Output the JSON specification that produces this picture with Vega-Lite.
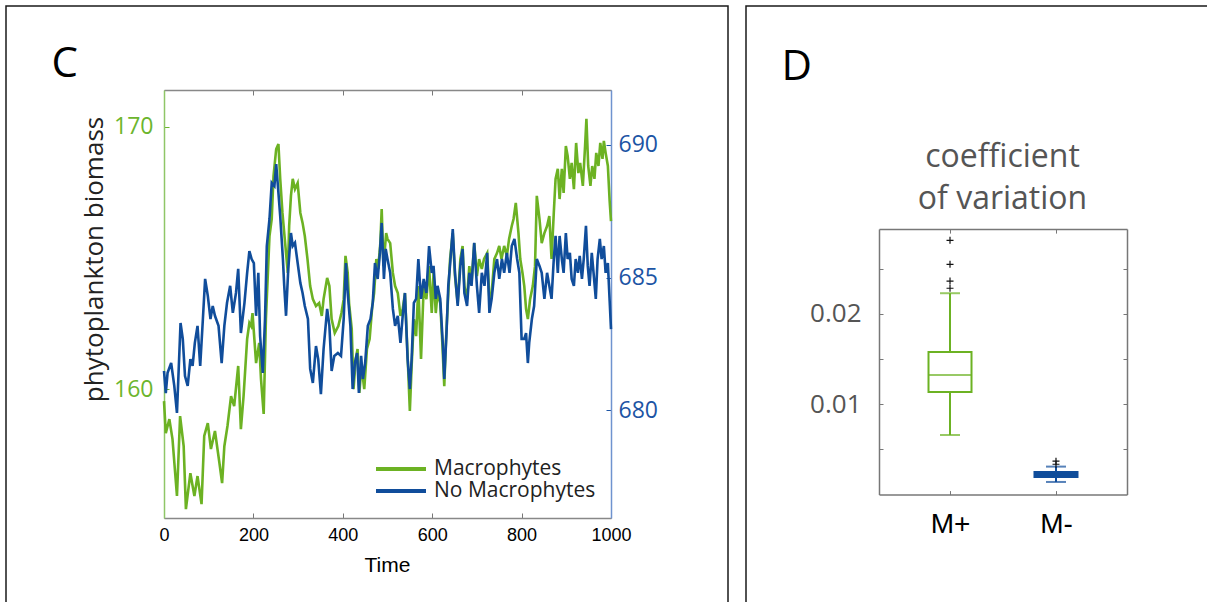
{
"$schema":"https://vega.github.io/schema/vega-lite/v6.json",
"background":"white",
"padding":{"left":5,"top":5,"right":0,"bottom":0},
"spacing":16,
"resolve":{"scale":{"color":"independent"},"legend":{"color":"independent"}},
"config":{"view":{"stroke":"#1a1a1a","strokeWidth":1.5},"axis":{"grid":false,"tickWidth":1}},
"hconcat":[
{
"width":722,"height":605,
"data":{"values":[
{"t":0,"s":"Macrophytes","v":159.54},{"t":4,"s":"Macrophytes","v":158.32},{"t":12,"s":"Macrophytes","v":158.85},{"t":19,"s":"Macrophytes","v":158.09},{"t":29,"s":"Macrophytes","v":155.92},{"t":36,"s":"Macrophytes","v":158.97},{"t":44,"s":"Macrophytes","v":157.82},{"t":49,"s":"Macrophytes","v":155.42},{"t":59,"s":"Macrophytes","v":156.79},{"t":68,"s":"Macrophytes","v":155.92},{"t":75,"s":"Macrophytes","v":156.68},{"t":84,"s":"Macrophytes","v":155.61},{"t":90,"s":"Macrophytes","v":158.21},{"t":98,"s":"Macrophytes","v":158.70},{"t":105,"s":"Macrophytes","v":157.71},{"t":114,"s":"Macrophytes","v":158.40},{"t":124,"s":"Macrophytes","v":157.18},{"t":130,"s":"Macrophytes","v":156.41},{"t":135,"s":"Macrophytes","v":157.82},{"t":142,"s":"Macrophytes","v":158.59},{"t":150,"s":"Macrophytes","v":159.73},{"t":157,"s":"Macrophytes","v":159.35},{"t":166,"s":"Macrophytes","v":160.88},{"t":172,"s":"Macrophytes","v":158.47},{"t":178,"s":"Macrophytes","v":159.73},{"t":186,"s":"Macrophytes","v":161.91},{"t":191,"s":"Macrophytes","v":162.52},{"t":195,"s":"Macrophytes","v":162.40},{"t":198,"s":"Macrophytes","v":162.90},{"t":206,"s":"Macrophytes","v":160.99},{"t":213,"s":"Macrophytes","v":161.76},{"t":217,"s":"Macrophytes","v":160.38},{"t":223,"s":"Macrophytes","v":159.05},{"t":228,"s":"Macrophytes","v":162.67},{"t":236,"s":"Macrophytes","v":165.84},{"t":241,"s":"Macrophytes","v":166.49},{"t":245,"s":"Macrophytes","v":168.13},{"t":251,"s":"Macrophytes","v":169.16},{"t":256,"s":"Macrophytes","v":169.35},{"t":260,"s":"Macrophytes","v":168.02},{"t":265,"s":"Macrophytes","v":166.72},{"t":271,"s":"Macrophytes","v":165.57},{"t":277,"s":"Macrophytes","v":164.43},{"t":280,"s":"Macrophytes","v":166.22},{"t":284,"s":"Macrophytes","v":167.37},{"t":288,"s":"Macrophytes","v":168.02},{"t":293,"s":"Macrophytes","v":167.63},{"t":299,"s":"Macrophytes","v":167.86},{"t":305,"s":"Macrophytes","v":166.72},{"t":310,"s":"Macrophytes","v":166.34},{"t":315,"s":"Macrophytes","v":165.84},{"t":321,"s":"Macrophytes","v":164.96},{"t":327,"s":"Macrophytes","v":163.93},{"t":333,"s":"Macrophytes","v":163.43},{"t":340,"s":"Macrophytes","v":163.17},{"t":347,"s":"Macrophytes","v":163.28},{"t":353,"s":"Macrophytes","v":162.79},{"t":357,"s":"Macrophytes","v":163.43},{"t":365,"s":"Macrophytes","v":164.24},{"t":370,"s":"Macrophytes","v":163.93},{"t":375,"s":"Macrophytes","v":162.67},{"t":382,"s":"Macrophytes","v":162.14},{"t":390,"s":"Macrophytes","v":162.40},{"t":397,"s":"Macrophytes","v":162.90},{"t":402,"s":"Macrophytes","v":163.43},{"t":406,"s":"Macrophytes","v":165.08},{"t":411,"s":"Macrophytes","v":164.43},{"t":414,"s":"Macrophytes","v":163.28},{"t":420,"s":"Macrophytes","v":162.29},{"t":424,"s":"Macrophytes","v":160.00},{"t":429,"s":"Macrophytes","v":161.15},{"t":433,"s":"Macrophytes","v":161.53},{"t":437,"s":"Macrophytes","v":159.85},{"t":442,"s":"Macrophytes","v":160.88},{"t":448,"s":"Macrophytes","v":160.00},{"t":454,"s":"Macrophytes","v":161.53},{"t":460,"s":"Macrophytes","v":161.91},{"t":466,"s":"Macrophytes","v":163.17},{"t":470,"s":"Macrophytes","v":163.66},{"t":475,"s":"Macrophytes","v":164.96},{"t":479,"s":"Macrophytes","v":164.58},{"t":484,"s":"Macrophytes","v":165.57},{"t":487,"s":"Macrophytes","v":166.87},{"t":491,"s":"Macrophytes","v":164.69},{"t":497,"s":"Macrophytes","v":165.95},{"t":500,"s":"Macrophytes","v":165.73},{"t":506,"s":"Macrophytes","v":165.57},{"t":512,"s":"Macrophytes","v":164.43},{"t":517,"s":"Macrophytes","v":163.93},{"t":523,"s":"Macrophytes","v":163.66},{"t":529,"s":"Macrophytes","v":162.79},{"t":534,"s":"Macrophytes","v":163.05},{"t":539,"s":"Macrophytes","v":163.66},{"t":545,"s":"Macrophytes","v":161.26},{"t":550,"s":"Macrophytes","v":159.16},{"t":554,"s":"Macrophytes","v":160.88},{"t":559,"s":"Macrophytes","v":162.67},{"t":564,"s":"Macrophytes","v":162.02},{"t":569,"s":"Macrophytes","v":163.93},{"t":575,"s":"Macrophytes","v":161.15},{"t":581,"s":"Macrophytes","v":163.93},{"t":587,"s":"Macrophytes","v":163.43},{"t":593,"s":"Macrophytes","v":164.69},{"t":599,"s":"Macrophytes","v":162.90},{"t":603,"s":"Macrophytes","v":164.43},{"t":608,"s":"Macrophytes","v":162.90},{"t":612,"s":"Macrophytes","v":163.66},{"t":618,"s":"Macrophytes","v":163.28},{"t":623,"s":"Macrophytes","v":161.64},{"t":627,"s":"Macrophytes","v":160.11},{"t":631,"s":"Macrophytes","v":161.91},{"t":636,"s":"Macrophytes","v":163.66},{"t":640,"s":"Macrophytes","v":164.96},{"t":646,"s":"Macrophytes","v":165.95},{"t":651,"s":"Macrophytes","v":164.31},{"t":657,"s":"Macrophytes","v":163.28},{"t":663,"s":"Macrophytes","v":164.96},{"t":668,"s":"Macrophytes","v":165.46},{"t":672,"s":"Macrophytes","v":163.93},{"t":678,"s":"Macrophytes","v":163.43},{"t":683,"s":"Macrophytes","v":164.69},{"t":688,"s":"Macrophytes","v":164.05},{"t":694,"s":"Macrophytes","v":165.57},{"t":700,"s":"Macrophytes","v":164.31},{"t":705,"s":"Macrophytes","v":164.96},{"t":711,"s":"Macrophytes","v":164.58},{"t":716,"s":"Macrophytes","v":164.96},{"t":723,"s":"Macrophytes","v":165.19},{"t":728,"s":"Macrophytes","v":163.43},{"t":733,"s":"Macrophytes","v":163.66},{"t":739,"s":"Macrophytes","v":164.96},{"t":745,"s":"Macrophytes","v":165.19},{"t":750,"s":"Macrophytes","v":165.46},{"t":755,"s":"Macrophytes","v":164.96},{"t":761,"s":"Macrophytes","v":165.46},{"t":767,"s":"Macrophytes","v":165.08},{"t":772,"s":"Macrophytes","v":165.73},{"t":778,"s":"Macrophytes","v":166.22},{"t":782,"s":"Macrophytes","v":166.49},{"t":787,"s":"Macrophytes","v":167.10},{"t":793,"s":"Macrophytes","v":165.95},{"t":797,"s":"Macrophytes","v":164.96},{"t":802,"s":"Macrophytes","v":164.43},{"t":806,"s":"Macrophytes","v":163.93},{"t":810,"s":"Macrophytes","v":163.05},{"t":814,"s":"Macrophytes","v":162.67},{"t":819,"s":"Macrophytes","v":163.43},{"t":825,"s":"Macrophytes","v":163.93},{"t":830,"s":"Macrophytes","v":164.69},{"t":834,"s":"Macrophytes","v":167.37},{"t":840,"s":"Macrophytes","v":166.49},{"t":845,"s":"Macrophytes","v":165.57},{"t":851,"s":"Macrophytes","v":165.95},{"t":857,"s":"Macrophytes","v":166.22},{"t":862,"s":"Macrophytes","v":166.60},{"t":867,"s":"Macrophytes","v":164.96},{"t":872,"s":"Macrophytes","v":166.72},{"t":876,"s":"Macrophytes","v":168.02},{"t":881,"s":"Macrophytes","v":168.40},{"t":885,"s":"Macrophytes","v":167.25},{"t":890,"s":"Macrophytes","v":168.40},{"t":894,"s":"Macrophytes","v":167.48},{"t":899,"s":"Macrophytes","v":169.27},{"t":903,"s":"Macrophytes","v":168.89},{"t":908,"s":"Macrophytes","v":168.02},{"t":912,"s":"Macrophytes","v":168.63},{"t":917,"s":"Macrophytes","v":167.63},{"t":922,"s":"Macrophytes","v":169.39},{"t":927,"s":"Macrophytes","v":168.24},{"t":931,"s":"Macrophytes","v":168.63},{"t":937,"s":"Macrophytes","v":167.75},{"t":942,"s":"Macrophytes","v":169.27},{"t":945,"s":"Macrophytes","v":170.31},{"t":949,"s":"Macrophytes","v":168.51},{"t":954,"s":"Macrophytes","v":167.75},{"t":958,"s":"Macrophytes","v":168.51},{"t":963,"s":"Macrophytes","v":168.02},{"t":967,"s":"Macrophytes","v":169.01},{"t":972,"s":"Macrophytes","v":168.51},{"t":976,"s":"Macrophytes","v":169.39},{"t":981,"s":"Macrophytes","v":168.78},{"t":984,"s":"Macrophytes","v":169.47},{"t":988,"s":"Macrophytes","v":169.01},{"t":993,"s":"Macrophytes","v":168.51},{"t":997,"s":"Macrophytes","v":167.17},{"t":1000,"s":"Macrophytes","v":166.41},
{"t":0,"s":"No Macrophytes","v":681.48},{"t":4,"s":"No Macrophytes","v":680.65},{"t":8,"s":"No Macrophytes","v":681.41},{"t":16,"s":"No Macrophytes","v":681.78},{"t":23,"s":"No Macrophytes","v":680.92},{"t":29,"s":"No Macrophytes","v":679.90},{"t":37,"s":"No Macrophytes","v":683.29},{"t":42,"s":"No Macrophytes","v":682.69},{"t":47,"s":"No Macrophytes","v":681.29},{"t":53,"s":"No Macrophytes","v":680.92},{"t":59,"s":"No Macrophytes","v":681.93},{"t":64,"s":"No Macrophytes","v":681.67},{"t":69,"s":"No Macrophytes","v":682.54},{"t":75,"s":"No Macrophytes","v":683.18},{"t":81,"s":"No Macrophytes","v":681.67},{"t":87,"s":"No Macrophytes","v":683.44},{"t":92,"s":"No Macrophytes","v":684.95},{"t":98,"s":"No Macrophytes","v":684.31},{"t":104,"s":"No Macrophytes","v":683.44},{"t":109,"s":"No Macrophytes","v":683.93},{"t":114,"s":"No Macrophytes","v":683.56},{"t":122,"s":"No Macrophytes","v":683.18},{"t":129,"s":"No Macrophytes","v":681.78},{"t":135,"s":"No Macrophytes","v":683.18},{"t":141,"s":"No Macrophytes","v":684.05},{"t":148,"s":"No Macrophytes","v":684.69},{"t":154,"s":"No Macrophytes","v":683.67},{"t":161,"s":"No Macrophytes","v":684.42},{"t":166,"s":"No Macrophytes","v":685.33},{"t":172,"s":"No Macrophytes","v":682.91},{"t":180,"s":"No Macrophytes","v":684.05},{"t":186,"s":"No Macrophytes","v":685.18},{"t":191,"s":"No Macrophytes","v":686.00},{"t":196,"s":"No Macrophytes","v":685.70},{"t":201,"s":"No Macrophytes","v":685.55},{"t":206,"s":"No Macrophytes","v":683.56},{"t":211,"s":"No Macrophytes","v":685.18},{"t":215,"s":"No Macrophytes","v":682.80},{"t":221,"s":"No Macrophytes","v":681.41},{"t":226,"s":"No Macrophytes","v":683.44},{"t":230,"s":"No Macrophytes","v":686.19},{"t":236,"s":"No Macrophytes","v":687.21},{"t":241,"s":"No Macrophytes","v":688.57},{"t":247,"s":"No Macrophytes","v":688.45},{"t":251,"s":"No Macrophytes","v":689.28},{"t":256,"s":"No Macrophytes","v":688.19},{"t":260,"s":"No Macrophytes","v":687.32},{"t":266,"s":"No Macrophytes","v":685.70},{"t":269,"s":"No Macrophytes","v":684.69},{"t":273,"s":"No Macrophytes","v":683.56},{"t":278,"s":"No Macrophytes","v":685.33},{"t":284,"s":"No Macrophytes","v":686.68},{"t":288,"s":"No Macrophytes","v":686.19},{"t":293,"s":"No Macrophytes","v":686.31},{"t":299,"s":"No Macrophytes","v":685.55},{"t":305,"s":"No Macrophytes","v":684.80},{"t":310,"s":"No Macrophytes","v":684.42},{"t":315,"s":"No Macrophytes","v":683.93},{"t":322,"s":"No Macrophytes","v":683.44},{"t":327,"s":"No Macrophytes","v":681.56},{"t":333,"s":"No Macrophytes","v":681.03},{"t":340,"s":"No Macrophytes","v":682.42},{"t":345,"s":"No Macrophytes","v":681.93},{"t":351,"s":"No Macrophytes","v":680.61},{"t":357,"s":"No Macrophytes","v":682.31},{"t":365,"s":"No Macrophytes","v":683.82},{"t":370,"s":"No Macrophytes","v":683.18},{"t":375,"s":"No Macrophytes","v":681.48},{"t":381,"s":"No Macrophytes","v":682.05},{"t":389,"s":"No Macrophytes","v":682.16},{"t":396,"s":"No Macrophytes","v":682.05},{"t":402,"s":"No Macrophytes","v":683.44},{"t":407,"s":"No Macrophytes","v":685.55},{"t":411,"s":"No Macrophytes","v":684.42},{"t":417,"s":"No Macrophytes","v":683.18},{"t":422,"s":"No Macrophytes","v":680.80},{"t":427,"s":"No Macrophytes","v":681.78},{"t":432,"s":"No Macrophytes","v":682.16},{"t":436,"s":"No Macrophytes","v":680.65},{"t":441,"s":"No Macrophytes","v":682.05},{"t":445,"s":"No Macrophytes","v":681.18},{"t":450,"s":"No Macrophytes","v":681.78},{"t":456,"s":"No Macrophytes","v":683.18},{"t":462,"s":"No Macrophytes","v":683.44},{"t":467,"s":"No Macrophytes","v":684.05},{"t":472,"s":"No Macrophytes","v":685.55},{"t":478,"s":"No Macrophytes","v":684.95},{"t":483,"s":"No Macrophytes","v":685.93},{"t":487,"s":"No Macrophytes","v":687.06},{"t":492,"s":"No Macrophytes","v":684.95},{"t":496,"s":"No Macrophytes","v":686.08},{"t":500,"s":"No Macrophytes","v":685.70},{"t":506,"s":"No Macrophytes","v":685.18},{"t":512,"s":"No Macrophytes","v":683.82},{"t":517,"s":"No Macrophytes","v":683.18},{"t":523,"s":"No Macrophytes","v":683.56},{"t":529,"s":"No Macrophytes","v":682.54},{"t":534,"s":"No Macrophytes","v":683.56},{"t":539,"s":"No Macrophytes","v":684.42},{"t":545,"s":"No Macrophytes","v":681.93},{"t":550,"s":"No Macrophytes","v":680.80},{"t":554,"s":"No Macrophytes","v":681.93},{"t":559,"s":"No Macrophytes","v":684.05},{"t":564,"s":"No Macrophytes","v":684.20},{"t":569,"s":"No Macrophytes","v":685.70},{"t":575,"s":"No Macrophytes","v":684.20},{"t":581,"s":"No Macrophytes","v":684.95},{"t":587,"s":"No Macrophytes","v":684.42},{"t":593,"s":"No Macrophytes","v":686.19},{"t":599,"s":"No Macrophytes","v":685.18},{"t":603,"s":"No Macrophytes","v":685.44},{"t":608,"s":"No Macrophytes","v":684.20},{"t":612,"s":"No Macrophytes","v":684.69},{"t":618,"s":"No Macrophytes","v":684.20},{"t":624,"s":"No Macrophytes","v":682.42},{"t":627,"s":"No Macrophytes","v":681.18},{"t":632,"s":"No Macrophytes","v":682.91},{"t":636,"s":"No Macrophytes","v":684.69},{"t":641,"s":"No Macrophytes","v":685.70},{"t":646,"s":"No Macrophytes","v":686.83},{"t":651,"s":"No Macrophytes","v":685.18},{"t":657,"s":"No Macrophytes","v":683.93},{"t":663,"s":"No Macrophytes","v":685.44},{"t":668,"s":"No Macrophytes","v":686.08},{"t":672,"s":"No Macrophytes","v":684.42},{"t":678,"s":"No Macrophytes","v":683.93},{"t":683,"s":"No Macrophytes","v":685.18},{"t":688,"s":"No Macrophytes","v":684.69},{"t":694,"s":"No Macrophytes","v":686.31},{"t":700,"s":"No Macrophytes","v":684.69},{"t":705,"s":"No Macrophytes","v":683.67},{"t":711,"s":"No Macrophytes","v":685.18},{"t":717,"s":"No Macrophytes","v":684.69},{"t":723,"s":"No Macrophytes","v":685.93},{"t":728,"s":"No Macrophytes","v":683.67},{"t":733,"s":"No Macrophytes","v":684.20},{"t":739,"s":"No Macrophytes","v":685.18},{"t":745,"s":"No Macrophytes","v":685.70},{"t":750,"s":"No Macrophytes","v":684.95},{"t":756,"s":"No Macrophytes","v":685.70},{"t":761,"s":"No Macrophytes","v":685.18},{"t":767,"s":"No Macrophytes","v":685.93},{"t":773,"s":"No Macrophytes","v":685.18},{"t":778,"s":"No Macrophytes","v":686.19},{"t":784,"s":"No Macrophytes","v":686.46},{"t":790,"s":"No Macrophytes","v":685.70},{"t":795,"s":"No Macrophytes","v":685.18},{"t":800,"s":"No Macrophytes","v":682.69},{"t":806,"s":"No Macrophytes","v":682.69},{"t":810,"s":"No Macrophytes","v":682.91},{"t":814,"s":"No Macrophytes","v":681.78},{"t":817,"s":"No Macrophytes","v":682.54},{"t":823,"s":"No Macrophytes","v":683.44},{"t":828,"s":"No Macrophytes","v":683.93},{"t":834,"s":"No Macrophytes","v":685.70},{"t":840,"s":"No Macrophytes","v":685.44},{"t":845,"s":"No Macrophytes","v":685.18},{"t":851,"s":"No Macrophytes","v":684.20},{"t":857,"s":"No Macrophytes","v":685.18},{"t":862,"s":"No Macrophytes","v":684.69},{"t":867,"s":"No Macrophytes","v":684.20},{"t":872,"s":"No Macrophytes","v":685.70},{"t":876,"s":"No Macrophytes","v":686.57},{"t":881,"s":"No Macrophytes","v":685.18},{"t":885,"s":"No Macrophytes","v":686.57},{"t":890,"s":"No Macrophytes","v":685.70},{"t":894,"s":"No Macrophytes","v":685.18},{"t":899,"s":"No Macrophytes","v":686.68},{"t":903,"s":"No Macrophytes","v":685.70},{"t":908,"s":"No Macrophytes","v":685.93},{"t":912,"s":"No Macrophytes","v":684.95},{"t":917,"s":"No Macrophytes","v":684.69},{"t":921,"s":"No Macrophytes","v":685.70},{"t":926,"s":"No Macrophytes","v":685.18},{"t":930,"s":"No Macrophytes","v":685.82},{"t":935,"s":"No Macrophytes","v":684.95},{"t":939,"s":"No Macrophytes","v":685.70},{"t":944,"s":"No Macrophytes","v":686.95},{"t":948,"s":"No Macrophytes","v":685.44},{"t":952,"s":"No Macrophytes","v":684.69},{"t":957,"s":"No Macrophytes","v":685.93},{"t":961,"s":"No Macrophytes","v":685.18},{"t":966,"s":"No Macrophytes","v":684.20},{"t":970,"s":"No Macrophytes","v":685.70},{"t":975,"s":"No Macrophytes","v":686.46},{"t":979,"s":"No Macrophytes","v":685.70},{"t":984,"s":"No Macrophytes","v":686.19},{"t":988,"s":"No Macrophytes","v":685.18},{"t":993,"s":"No Macrophytes","v":685.55},{"t":997,"s":"No Macrophytes","v":684.12},{"t":1000,"s":"No Macrophytes","v":683.06}
]},
"encoding":{"color":{"field":"s","type":"nominal","scale":{"domain":["Macrophytes","No Macrophytes"],"range":["#6cb223","#104d9b"]},"legend":{"orient":"none","legendX":383,"legendY":451,"title":null,"symbolType":"M-2.5,0L2.5,0","symbolSize":400,"symbolStrokeWidth":4,"labelFont":"Open Sans","labelFontSize":21,"labelColor":"#222","labelOffset":21,"labelLimit":0,"rowPadding":-4,"padding":0}}},
"layer":[
{"transform":[{"filter":"datum.s === 'Macrophytes'"}],
 "mark":{"type":"line","strokeWidth":2.6},
 "encoding":{
  "x":{"field":"t","type":"quantitative","scale":{"domain":[0,1000],"range":[158,605],"nice":false,"zero":false},
   "axis":{"orient":"bottom","offset":-93,"values":[0,200,400,600,800,1000],"format":"d","labelFont":"Liberation Sans","labelFontSize":18,"labelColor":"#000","tickSize":-5,"tickColor":"#777","domainColor":"#888","domainWidth":1.5,"labelPadding":13,"labelFlush":false,"labelOverlap":false,"labelBound":false,"title":"Time","titleFont":"Liberation Sans","titleFontSize":21,"titleFontWeight":"normal","titleColor":"#000","titleX":381,"titleY":53,"titleAlign":"center","titleBaseline":"alphabetic"}},
  "y":{"field":"v","type":"quantitative","scale":{"domain":[155.08,171.41],"range":[512,84],"nice":false,"zero":false},
   "axis":{"orient":"left","offset":-158,"values":[160,170],"labelFont":"Open Sans","labelFontSize":23,"labelColor":"#6cb52d","tickColor":"#6cb52d","tickSize":-5,"domainColor":"#8fc667","domainWidth":1.5,"labelPadding":16,"title":"phytoplankton biomass","titleFont":"Open Sans","titleFontSize":26,"titleFontWeight":"normal","titleColor":"#222","titleAngle":270,"titleX":-62,"titleY":253,"titleAlign":"center","titleBaseline":"alphabetic"}}
 }},
{"transform":[{"filter":"datum.s === 'No Macrophytes'"}],
 "mark":{"type":"line","strokeWidth":2.6},
 "encoding":{
  "x":{"field":"t","type":"quantitative","scale":{"domain":[0,1000],"range":[158,605],"nice":false,"zero":false},
   "axis":{"orient":"top","offset":-84,"values":[0,200,400,600,800,1000],"labels":false,"tickSize":-5,"tickColor":"#777","domainColor":"#888","domainWidth":1.5,"title":"C","titleFont":"Open Sans","titleFontSize":42,"titleFontWeight":"normal","titleColor":"#000","titleAngle":0,"titleX":45,"titleY":-14,"titleAlign":"left","titleBaseline":"alphabetic"}},
  "y":{"field":"v","type":"quantitative","scale":{"domain":[675.94,692.07],"range":[512,84],"nice":false,"zero":false},
   "axis":{"orient":"right","offset":-117,"values":[680,685,690],"labelFont":"Open Sans","labelFontSize":23,"labelColor":"#1c54a4","tickColor":"#1c54a4","tickSize":-5,"domainColor":"#6f93cf","domainWidth":1.5,"labelPadding":12,"title":null}}
 }}
],
"resolve":{"scale":{"y":"independent"},"axis":{"x":"independent","y":"independent"}}
},
{
"width":470,"height":605,
"data":{"values":[
{"group":"M+","lower":0.0066,"q1":0.01136,"median":0.01324,"q3":0.01579,"upper":0.0223},
{"group":"M-","lower":0.0014,"q1":0.00195,"median":0.0022,"q3":0.0025,"upper":0.0031}
]},
"layer":[
{"mark":{"type":"rule","strokeWidth":2},
 "encoding":{
  "x":{"field":"group","type":"nominal","scale":{"type":"point","domain":["M+","M-"],"range":[133,381],"padding":0.67},
   "axis":{"orient":"bottom","offset":-116.4,"labelFont":"Liberation Sans","labelFontSize":28,"labelColor":"#000","labelAngle":0,"labelPadding":20,"labelBaseline":"top","tickSize":-4,"tickColor":"#777","domainColor":"#777","domainWidth":1.5,"title":null}},
  "y":{"field":"lower","type":"quantitative","scale":{"domain":[0,0.0294],"range":[488.6,223.1],"nice":false,"zero":false},
   "axis":{"orient":"left","offset":-133,"values":[0.005,0.01,0.015,0.02,0.025],"format":".2f","labelExpr":"(datum.value > 0.0099 && datum.value < 0.0101) || (datum.value > 0.0199 && datum.value < 0.0201) ? datum.label : ''","labelFont":"Open Sans","labelFontSize":26,"labelColor":"#555","labelPadding":22,"tickSize":-4,"tickColor":"#777","domainColor":"#777","domainWidth":1.5,"title":null}},
  "y2":{"field":"upper"},
  "color":{"field":"group","type":"nominal","scale":{"domain":["M+","M-"],"range":["#6cb223","#104d9b"]},"legend":null}
 }},
{"mark":{"type":"bar","width":43,"strokeWidth":2},
 "encoding":{
  "x":{"field":"group","type":"nominal","scale":{"type":"point","domain":["M+","M-"],"range":[133,381],"padding":0.67},
   "axis":{"orient":"top","offset":-223.1,"labels":false,"tickSize":-4,"tickColor":"#777","domainColor":"#777","domainWidth":1.5,"title":["coefficient","of variation"],"titleFont":"Open Sans","titleFontSize":32,"titleFontWeight":"normal","titleColor":"#555","titleX":256,"titleY":-63,"titleAlign":"center","titleBaseline":"alphabetic","titleLineHeight":42}},
  "y":{"field":"q3","type":"quantitative","scale":{"domain":[0,0.0294],"range":[488.6,223.1],"nice":false,"zero":false},
   "axis":{"orient":"right","offset":-89,"values":[0.005,0.01,0.015,0.02,0.025],"labels":false,"tickSize":-4,"tickColor":"#777","domainColor":"#777","domainWidth":1.5,"title":"D","titleFont":"Open Sans","titleFontSize":42,"titleFontWeight":"normal","titleColor":"#000","titleAngle":0,"titleX":-346,"titleY":73,"titleAlign":"left","titleBaseline":"alphabetic"}},
  "y2":{"field":"q1"},
  "stroke":{"field":"group","type":"nominal","scale":{"domain":["M+","M-"],"range":["#6cb223","#104d9b"]},"legend":null},
  "fill":{"field":"group","type":"nominal","scale":{"domain":["M+","M-"],"range":["#ffffff","#104d9b"]},"legend":null}
 }},
{"mark":{"type":"tick","size":43,"thickness":2},
 "encoding":{
  "x":{"field":"group","type":"nominal","scale":{"type":"point","domain":["M+","M-"],"range":[133,381],"padding":0.67},"axis":null},
  "y":{"field":"median","type":"quantitative","scale":{"domain":[0,0.0294],"range":[488.6,223.1],"nice":false,"zero":false},"axis":null},
  "color":{"field":"group","type":"nominal","scale":{"domain":["M+","M-"],"range":["#6cb223","#104d9b"]},"legend":null}
 }},
{"mark":{"type":"tick","size":20,"thickness":2},
 "encoding":{
  "x":{"field":"group","type":"nominal","scale":{"type":"point","domain":["M+","M-"],"range":[133,381],"padding":0.67},"axis":null},
  "y":{"field":"lower","type":"quantitative","scale":{"domain":[0,0.0294],"range":[488.6,223.1],"nice":false,"zero":false},"axis":null},
  "color":{"field":"group","type":"nominal","scale":{"domain":["M+","M-"],"range":["#6cb223","#104d9b"]},"legend":null}
 }},
{"mark":{"type":"tick","size":20,"thickness":2},
 "encoding":{
  "x":{"field":"group","type":"nominal","scale":{"type":"point","domain":["M+","M-"],"range":[133,381],"padding":0.67},"axis":null},
  "y":{"field":"upper","type":"quantitative","scale":{"domain":[0,0.0294],"range":[488.6,223.1],"nice":false,"zero":false},"axis":null},
  "color":{"field":"group","type":"nominal","scale":{"domain":["M+","M-"],"range":["#6cb223","#104d9b"]},"legend":null}
 }},
{"data":{"values":[
 {"group":"M+","value":0.02285},{"group":"M+","value":0.02365},{"group":"M+","value":0.0255},{"group":"M+","value":0.02816},
 {"group":"M-","value":0.00336},{"group":"M-","value":0.0037}
 ]},
 "mark":{"type":"point","shape":"M-1,0L1,0M0,-1L0,1","size":49,"strokeWidth":1.2,"color":"#111","filled":false,"opacity":1},
 "encoding":{
  "x":{"field":"group","type":"nominal","scale":{"type":"point","domain":["M+","M-"],"range":[133,381],"padding":0.67},"axis":null},
  "y":{"field":"value","type":"quantitative","scale":{"domain":[0,0.0294],"range":[488.6,223.1],"nice":false,"zero":false},"axis":null}
 }}
],
"resolve":{"axis":{"x":"independent","y":"independent"}}
}
]
}
